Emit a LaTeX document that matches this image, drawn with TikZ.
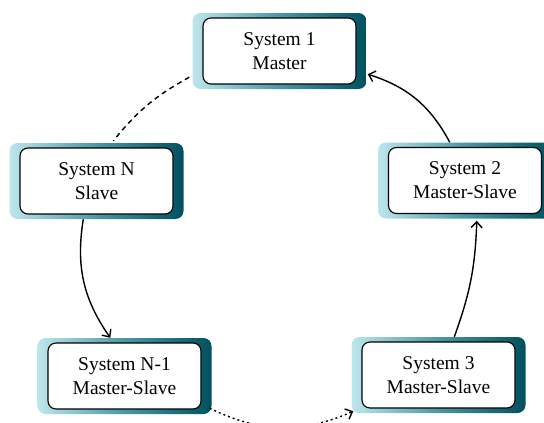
\documentclass[tikz,border=0pt]{standalone}
\usepackage{fontspec}
\setmainfont{Liberation Serif}
\usetikzlibrary{arrows.meta,calc}
\definecolor{tealL}{HTML}{BDE6EC}
\definecolor{tealM}{HTML}{4A98A6}
\definecolor{tealD}{HTML}{00505F}
\begin{document}
\begin{tikzpicture}[x=1pt,y=-1pt,
  outerbox/.style={rounded corners=8pt, minimum width=174pt, minimum height=76pt,
    inner sep=0pt, left color=tealL, right color=tealD, middle color=tealM},
  innerbox/.style={draw=black, line width=1.1pt, fill=white, rounded corners=8pt,
    minimum width=153pt, minimum height=66pt, align=center, inner sep=0pt,
    font=\fontsize{19.5}{24}\selectfont},
  arr/.style={line width=1.4pt, -{Straight Barb[length=6pt,width=11pt,line width=1.4pt]}},
  link/.style={line width=1.4pt}
]
\useasboundingbox (0,0) rectangle (544,423);

\node[outerbox] (o1) at (279.5,51) {};
\node[innerbox] (i1) at (o1.center) {System 1\\Master};

\node[outerbox] (oN) at (96.5,181) {};
\node[innerbox] (iN) at (oN.center) {System N\\Slave};

\node[outerbox] (o2) at (465,180.5) {};
\node[innerbox] (i2) at (o2.center) {System 2\\Master-Slave};

\node[outerbox] (o4) at (124.5,376) {};
\node[innerbox] (i4) at (o4.center) {System N-1\\Master-Slave};

\node[outerbox] (o3) at (438.5,375) {};
\node[innerbox] (i3) at (o3.center) {System 3\\Master-Slave};

\draw[arr] ($(o2.north west)+(72,0)$) to[bend right=22] ($(o1.south east)+(1,-15)$);
\draw[arr] ($(o3.north west)+(103,0)$) to[bend right=9] ($(o2.south west)+(99,2)$);
\draw[arr] ($(oN.south west)+(74,0)$) to[bend right=22] ($(o4.north west)+(73,0)$);
\draw[link, dash pattern=on 5pt off 4pt] ($(o1.south west)+(-3,-12)$) to[bend right=11] ($(oN.north west)+(104,-2)$);
\draw[arr, dash pattern=on 2pt off 3pt] ($(o4.south east)+(-2,-6)$) to[bend right=25] ($(o3.south west)+(2,-2)$);
\end{tikzpicture}
\end{document}
